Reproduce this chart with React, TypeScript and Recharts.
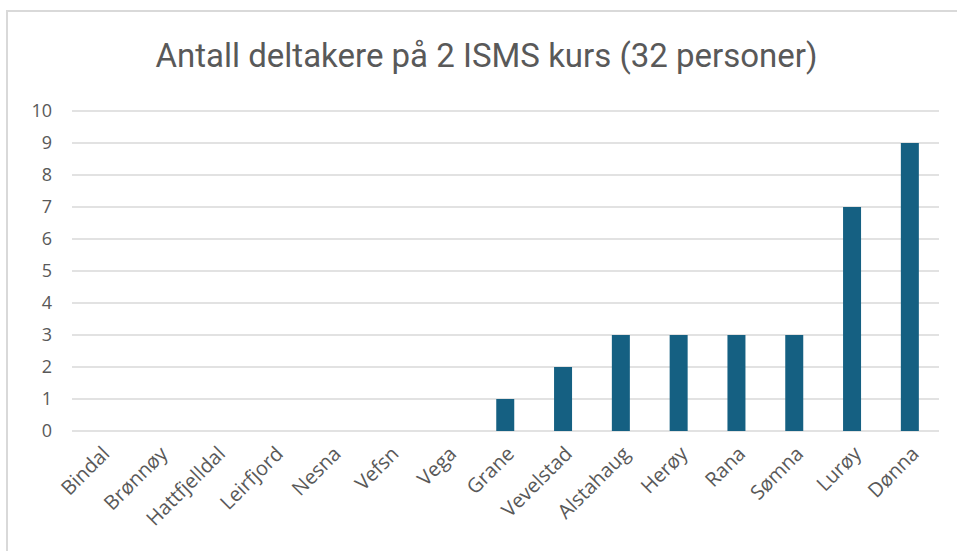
import { BarChart, Bar, XAxis, YAxis, CartesianGrid } from 'recharts';

const kommuner = ['Bindal', 'Brønnøy', 'Hattfjelldal', 'Leirfjord', 'Nesna', 'Vefsn', 'Vega', 'Grane', 'Vevelstad', 'Alstahaug', 'Herøy', 'Rana', 'Sømna', 'Lurøy', 'Dønna'];
const deltakere = [0, 0, 0, 0, 0, 0, 0, 1, 2, 3, 3, 3, 3, 7, 9];
const yTicks = [0, 1, 2, 3, 4, 5, 6, 7, 8, 9, 10];
const title = 'Antall deltakere på 2 ISMS kurs (32 personer)';

const data = kommuner.map((k, i) => ({ kommune: k, antall: deltakere[i] }));

const font = '"Open Sans", "Liberation Sans", sans-serif';

export default function App() {
  return (
    <div style={{ position: 'absolute', left: 0, top: 0, width: 957, height: 551, background: '#fff', overflow: 'hidden', fontFamily: font }}>
      <div style={{ position: 'absolute', left: 6, top: 10, width: 1000, height: 600, borderLeft: '2px solid #d9d9d9', borderTop: '2px solid #d9d9d9' }} />
      <div style={{ position: 'absolute', left: 0, top: 36, width: 973, textAlign: 'center', fontSize: 33, color: '#595959', fontFamily: 'Roboto, sans-serif' }}>
        {title}
      </div>
      <div style={{ position: 'absolute', left: 0, top: 0 }}>
        <BarChart width={957} height={551} data={data} margin={{ top: 111, right: 18, bottom: 0, left: 22 }} barCategoryGap="34%">
          <CartesianGrid vertical={false} stroke="#d9d9d9" strokeWidth={1.5} />
          <XAxis dataKey="kommune" axisLine={false} tickLine={false} interval={0} angle={-45} textAnchor="end" tickMargin={8} tick={{ fill: '#595959', fontSize: 20 }} height={120} />
          <YAxis domain={[0, 10]} ticks={yTicks} interval={0} axisLine={false} tickLine={false} width={50} tickMargin={14} tick={{ fill: '#595959', fontSize: 18 }} />
          <Bar dataKey="antall" fill="#156082" isAnimationActive={false} />
        </BarChart>
      </div>
    </div>
  );
}
